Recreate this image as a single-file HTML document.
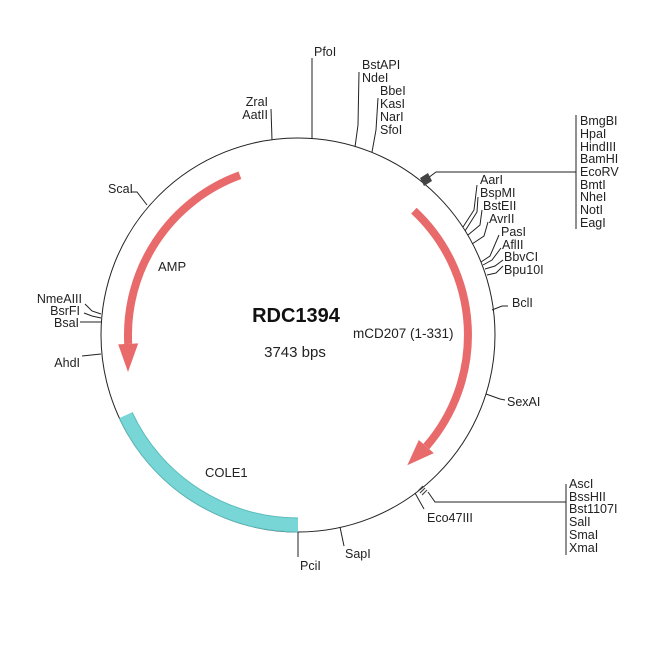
<!DOCTYPE html>
<html><head><meta charset="utf-8"><style>
html,body{margin:0;padding:0;background:#fff;}
svg text{font-family:"Liberation Sans",sans-serif;font-size:12.5px;fill:#222;}
</style></head><body>
<svg width="650" height="650" viewBox="0 0 650 650" xmlns="http://www.w3.org/2000/svg">
<rect width="650" height="650" fill="#fff"/>
<circle cx="298" cy="335" r="197" fill="none" stroke="#222" stroke-width="1"/>
<path d="M298,525 A190,190 0 0 1 125.8,415.3" fill="none" stroke="#5cbcbc" stroke-width="15"/>
<path d="M298,525 A190,190 0 0 1 125.8,415.3" fill="none" stroke="#78d6d6" stroke-width="13"/>
<path d="M239.9,175.3 A170,170 0 0 0 128.2,343.9" fill="none" stroke="#e86a6a" stroke-width="8"/>
<polygon points="138.2,343.4 118.2,344.4 128,372" fill="#e86a6a"/>
<path d="M413.9,210.7 A170,170 0 0 1 426.3,446.5" fill="none" stroke="#e86a6a" stroke-width="8"/>
<polygon points="418.8,440 433.8,453.1 407.3,465.2" fill="#e86a6a"/>

<text x="296" y="322" text-anchor="middle" style="font-size:20px;font-weight:bold;fill:#111">RDC1394</text>
<text x="295" y="357" text-anchor="middle" style="font-size:15px">3743 bps</text>
<text x="353" y="338" style="font-size:13.5px">mCD207 (1-331)</text>
<text x="158" y="271" style="font-size:13px">AMP</text>
<text x="205" y="477" style="font-size:13px">COLE1</text>

<g stroke="#222" stroke-width="1" fill="none">
<line x1="312" y1="139" x2="312" y2="58"/>
<line x1="272" y1="140" x2="271" y2="109"/>
<polyline points="355,147 358,125 359,72"/>
<polyline points="372,152 376,130 378,98"/>
<polyline points="428,178 436,172 576,172"/>
<line x1="576" y1="115" x2="576" y2="229"/>
<polyline points="463,227 474,210 477,185"/>
<polyline points="465,231 477,212 478,197"/>
<polyline points="468,235 480,225 482,210"/>
<polyline points="472,244 484,236 488,222"/>
<polyline points="481,262 490,256 499,235"/>
<polyline points="483,265 492,260 501,248"/>
<polyline points="485,269 495,266 503,260"/>
<polyline points="487,275 496,273 503,266"/>
<polyline points="492,310 502,306 508,306"/>
<polyline points="486,394 500,399 505,400"/>
<polyline points="428,492 435,502 566,502"/>
<line x1="566" y1="484" x2="566" y2="555"/>
<line x1="415" y1="493" x2="424" y2="509"/>
<line x1="340" y1="527" x2="344" y2="546"/>
<line x1="298" y1="532" x2="298" y2="557"/>
<polyline points="147,205 137,192 131,192"/>
<polyline points="101,314 92,311 85,304"/>
<polyline points="101,318 92,316 84,313"/>
<polyline points="101,322 80,322"/>
<polyline points="101,354 82,356"/>
</g>
<polygon points="420,178 428,173 432,181 424,186" fill="#444"/>
<g stroke="#444" stroke-width="1.2">
<line x1="418" y1="491" x2="423" y2="486"/><line x1="420" y1="493" x2="425" y2="488"/><line x1="422" y1="495" x2="427" y2="490"/>
</g>

<text x="314" y="56">PfoI</text>
<text x="268" y="106" text-anchor="end">ZraI</text>
<text x="268" y="119" text-anchor="end">AatII</text>
<text x="362" y="69">BstAPI</text>
<text x="362" y="82">NdeI</text>
<text x="380" y="95">BbeI</text>
<text x="380" y="108">KasI</text>
<text x="380" y="121">NarI</text>
<text x="380" y="134">SfoI</text>
<text x="580" y="125">BmgBI</text>
<text x="580" y="138">HpaI</text>
<text x="580" y="151">HindIII</text>
<text x="580" y="163">BamHI</text>
<text x="580" y="176">EcoRV</text>
<text x="580" y="189">BmtI</text>
<text x="580" y="201">NheI</text>
<text x="580" y="214">NotI</text>
<text x="580" y="227">EagI</text>
<text x="480" y="184">AarI</text>
<text x="480" y="197">BspMI</text>
<text x="483" y="210">BstEII</text>
<text x="489" y="223">AvrII</text>
<text x="501" y="236">PasI</text>
<text x="502" y="249">AflII</text>
<text x="504" y="261">BbvCI</text>
<text x="504" y="274">Bpu10I</text>
<text x="512" y="307">BclI</text>
<text x="507" y="406">SexAI</text>
<text x="569" y="488">AscI</text>
<text x="569" y="501">BssHII</text>
<text x="569" y="513">Bst1107I</text>
<text x="569" y="526">SalI</text>
<text x="569" y="539">SmaI</text>
<text x="569" y="552">XmaI</text>
<text x="427" y="522">Eco47III</text>
<text x="345" y="558">SapI</text>
<text x="300" y="570">PciI</text>
<text x="133" y="193" text-anchor="end">ScaI</text>
<text x="82" y="303" text-anchor="end">NmeAIII</text>
<text x="80" y="315" text-anchor="end">BsrFI</text>
<text x="79" y="327" text-anchor="end">BsaI</text>
<text x="80" y="367" text-anchor="end">AhdI</text>
</svg>
</body></html>
